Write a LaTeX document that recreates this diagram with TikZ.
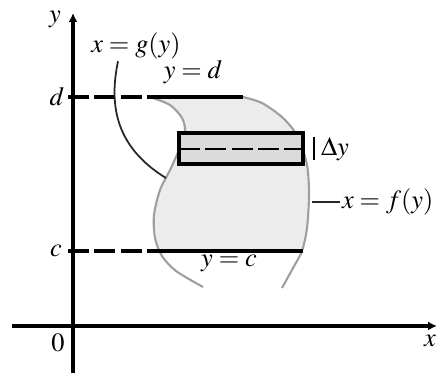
\documentclass[tikz,border=0pt]{standalone}
\usepackage{mathptmx}
\usetikzlibrary{arrows.meta, positioning}

\begin{document}
\begin{tikzpicture}[x=0.02cm, y=-0.02cm,
      axis/.style={line width=2pt, -{Latex[length=5pt,width=5pt]}},
      lvl/.style={line width=1.8pt},
      gap/.style={lvl, dash pattern=on 12pt off 3pt},
      curve/.style={gray!75, line width=1.2pt},
      lead/.style={black!85, line width=1pt},
      lbl/.style={font=\fontsize{15}{17}\selectfont, inner sep=1pt},
    ]
      \useasboundingbox (0,0) rectangle (437,373);

      % region between the two curves
      \begin{scope}
        \clip (0,97) rectangle (437,251);
        \fill[gray!15] plot[smooth] coordinates {(150,97) (170,105) (182,118) (185,132)
            (179,150) (170,170) (160,190) (154,215) (155,238) (162,256) (176,271) (203,287)}
          -- plot[smooth] coordinates {(282,288) (293,268) (302,251) (307,228) (309,195)
            (307,165) (298,137) (283,118) (262,103) (243,97)} -- cycle;
      \end{scope}

      % axes
      \coordinate (ybot) at (73,373);
      \coordinate (ytop) at (73,13);
      \coordinate (xlft) at (12,326);
      \coordinate (xrgt) at (437,326);
      \draw[axis] (ybot)--(ytop);
      \draw[axis] (xlft)--(xrgt);
      \node[lbl] (ylab) at (55,19) {$y$};
      \node[lbl] (xlab) at (430,341) {$x$};
      \node[lbl] (zero) at (58,343) {$0$};
      \node[lbl] (dlab) at (57,97) {$d$};
      \node[lbl] (clab) at (56,251) {$c$};

      % x = g(y), x = f(y)
      \draw[curve] plot[smooth] coordinates {(150,97) (170,105) (182,118) (185,132)
          (179,150) (170,170) (160,190) (154,215) (155,238) (162,256) (176,271) (203,287)};
      \draw[curve] plot[smooth] coordinates {(243,97) (262,103) (283,118) (298,137)
          (307,165) (309,195) (307,228) (302,251) (293,268) (282,288)};

      % y = d and y = c
      \coordinate (d0) at (68,97);
      \coordinate (dg) at (150,97);
      \coordinate (df) at (243,97);
      \coordinate (c0) at (68,251);
      \coordinate (cg) at (147,251);
      \coordinate (cf) at (303,251);
      \draw[gap] (d0)--(dg);
      \draw[lvl] (dg)--(df);
      \draw[gap] (c0)--(cg);
      \draw[lvl] (cg)--(cf);

      % strip
      \coordinate (sa) at (179,133);
      \coordinate (sb) at (303,164);
      \coordinate (sl) at (179,149);
      \coordinate (sr) at (303,149);
      \draw[line width=2pt, fill=gray!28] (sa) rectangle (sb);
      \draw[gap, line width=1.5pt] (sl)--(sr);

      % labels
      \node[lbl] (gy) at (136,46) {$x=g(y)$};
      \node[lbl] (yd) at (193,72) {$y=d$};
      \node[lbl] (yc) at (229,263) {$y=c$};
      \node[lbl, anchor=west] (fy) at (340,202) {$x=f(y)$};
      \node[lbl] (dy) at (335,149) {$\Delta y$};

      \coordinate (gp) at (166,178);
      \coordinate (fp) at (312,202);
      \coordinate (dyt) at (314,137);
      \coordinate (dyb) at (314,160);
      \draw[lead] ([xshift=-0.36cm]gy.south) .. controls (110,100) and (112,145) .. (gp);
      \draw[lead] (fp)--(fy.west);
      \draw[line width=1.2pt] (dyt)--(dyb);
    \end{tikzpicture}
\end{document}
